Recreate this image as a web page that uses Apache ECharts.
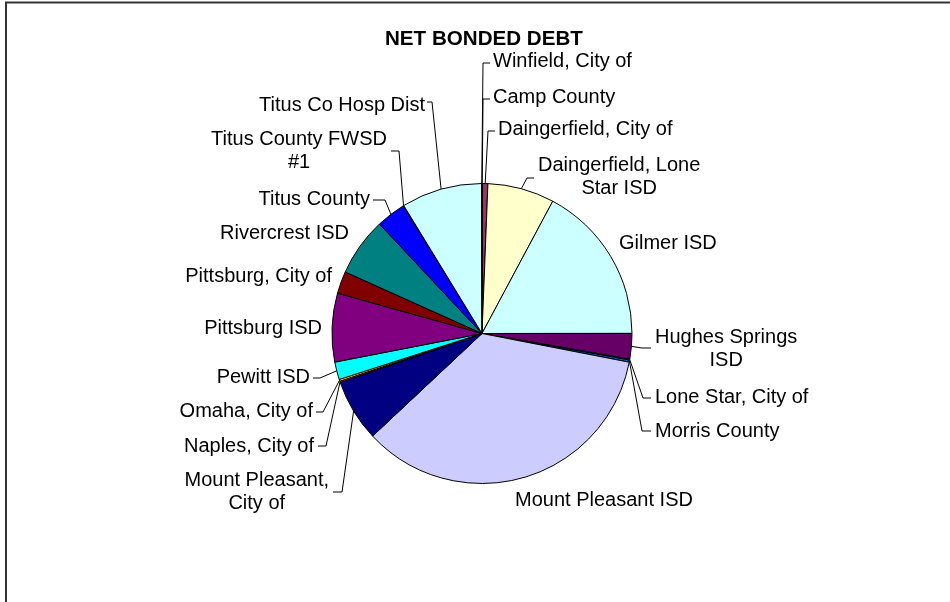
<!DOCTYPE html>
<html>
<head>
<meta charset="utf-8">
<script src="https://cdn.jsdelivr.net/npm/echarts@6/dist/echarts.min.js"></script>
<style>
html,body{margin:0;padding:0;background:#fff;}
#c{width:950px;height:602px;}
</style>
</head>
<body>
<div id="c"></div>
<script>
// ---- data ----
const chartTitle = 'NET BONDED DEBT';
const categories = [
  'Camp County', 'Daingerfield, City of', 'Daingerfield, Lone Star ISD', 'Gilmer ISD',
  'Hughes Springs ISD', 'Lone Star, City of', 'Morris County', 'Mount Pleasant ISD',
  'Mount Pleasant, City of', 'Naples, City of', 'Omaha, City of', 'Pewitt ISD',
  'Pittsburg ISD', 'Pittsburg, City of', 'Rivercrest ISD', 'Titus County',
  'Titus County FWSD #1', 'Titus Co Hosp Dist', 'Winfield, City of'
];
// share of total net bonded debt (%)
const shares = [
  0.05, 0.58, 7.2, 17.2,
  2.75, 0.1, 0.23, 35.0,
  6.7, 0.15, 0.2, 1.9,
  7.4, 2.4, 6.3, 3.2,
  0.05, 8.7, 0.05
];

// ---- styles / layout ----
const palette = [
  '#9999FF', '#993366', '#FFFFCC', '#CCFFFF',
  '#660066', '#FF8080', '#0066CC', '#CCCCFF',
  '#000080', '#FF00FF', '#FFFF00', '#00FFFF',
  '#800080', '#800000', '#008080', '#0000FF',
  '#00CCFF', '#CCFFFF', '#CCFFCC'
];
const wrapped = {
  'Daingerfield, Lone Star ISD': 'Daingerfield, Lone\nStar ISD',
  'Hughes Springs ISD': 'Hughes Springs\nISD',
  'Mount Pleasant, City of': 'Mount Pleasant,\nCity of',
  'Titus County FWSD #1': 'Titus County FWSD\n#1'
};
// label placement: [textX, textY, align, leaderCornerX, leaderCornerY, leaderEndX]
// align 'cl' / 'cr' = centred block to the right / left of the leader end
const labelPlace = [
  [493, 97, 'left', 483, 99, 490],
  [498, 129, 'left', 488, 131, 495],
  [0, 176.5, 'cl', 527, 178, 534],
  [619, 243, 'left', null, null, null],
  [0, 348.5, 'cl', 642, 348, 651],
  [655, 397, 'left', 643, 398, 651],
  [655, 431, 'left', 642, 431, 651],
  [604, 500, 'center', null, null, null],
  [0, 492, 'cr', 342, 492, 333],
  [314, 446, 'right', 326, 446, 318],
  [313, 411, 'right', 323, 412, 316],
  [310, 377, 'right', 320, 378, 313],
  [322, 328, 'right', null, null, null],
  [332, 276, 'right', null, null, null],
  [349, 233, 'right', null, null, null],
  [370, 199, 'right', 385, 200, 373],
  [0, 151, 'cr', 399, 151, 391],
  [425, 105, 'right', 432, 102, 427],
  [493, 61, 'left', 483, 63, 490]
];

const FONT = '"Liberation Sans", Arial, sans-serif';

const data = categories.map((name, i) => ({
  name: name,
  value: shares[i],
  itemStyle: { color: palette[i] },
  labelLine: { show: labelPlace[i][3] != null }
}));

const chart = echarts.init(document.getElementById('c'), null, { renderer: 'canvas' });
chart.setOption({
  animation: false,
  backgroundColor: '#fff',
  title: {
    text: chartTitle,
    left: 380,
    top: 24,
    textStyle: { fontFamily: FONT, fontSize: 20.6, fontWeight: 'bold', color: '#000', lineHeight: 20 }
  },
  graphic: [{
    type: 'rect',
    shape: { x: 6, y: 2.5, width: 1200, height: 1000 },
    style: { fill: 'none', stroke: '#333', lineWidth: 2 },
    silent: true
  }],
  series: [{
    type: 'pie',
    center: [482, 333.5],
    radius: 150,
    startAngle: 90,
    clockwise: true,
    avoidLabelOverlap: false,
    minShowLabelAngle: 0,
    emphasis: { disabled: true },
    itemStyle: { borderColor: '#000', borderWidth: 1 },
    label: {
      show: true,
      position: 'outside',
      alignTo: 'none',
      color: '#000',
      fontFamily: FONT,
      fontSize: 20,
      lineHeight: 23,
      formatter: p => wrapped[p.name] || p.name
    },
    labelLine: {
      show: true,
      length: 8,
      length2: 6,
      smooth: false,
      lineStyle: { color: '#000', width: 1 }
    },
    labelLayout: function (p) {
      const L = labelPlace[p.dataIndex];
      const align = L[2];
      let x = L[0];
      let a = align;
      if (align === 'cl') { x = L[5] + 4 + p.labelRect.width / 2; a = 'center'; }
      if (align === 'cr') { x = L[5] - 4 - p.labelRect.width / 2; a = 'center'; }
      const out = { x: x, y: L[1], align: a, verticalAlign: 'middle' };
      if (L[3] != null && p.labelLinePoints) {
        out.labelLinePoints = [p.labelLinePoints[0], [L[3], L[4]], [L[5], L[4]]];
      }
      return out;
    },
    data: data
  }]
});
</script>
</body>
</html>
